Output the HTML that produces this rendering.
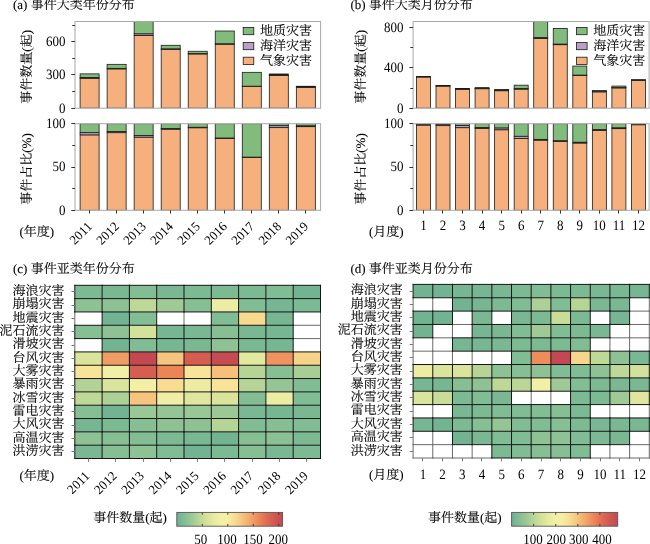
<!DOCTYPE html>
<html><head><meta charset="utf-8"><title>figure</title>
<style>
html,body{margin:0;padding:0;background:#fff;}
body{width:650px;height:544px;overflow:hidden;}
svg{display:block;will-change:transform;}
text.d{stroke:none;}
text{text-rendering:geometricPrecision;font-family:'Liberation Serif', 'Noto Serif CJK SC', serif;fill:#000;font-weight:400;stroke:#000;stroke-width:0.1px;}
</style></head>
<body>
<svg width="650" height="544" viewBox="0 0 650 544">
<rect x="0" y="0" width="650" height="544" fill="#fff"/>
<text x="13" y="9.4" text-anchor="start" font-size="13" >(a) 事件大类年份分布</text>
<clipPath id="at"><rect x="75" y="21.5" width="245.6" height="86.7"/></clipPath>
<g clip-path="url(#at)">
<rect x="80.1" y="78.3" width="19" height="29.9" fill="#f5b07e" stroke="#1a1a1a" stroke-width="0.8" />
<rect x="80.1" y="77.41" width="19" height="0.89" fill="#baa0c4" stroke="#1a1a1a" stroke-width="0.8" />
<rect x="80.1" y="73.87" width="19" height="3.54" fill="#82bc7d" stroke="#1a1a1a" stroke-width="0.8" />
<rect x="107.13" y="68.88" width="19" height="39.32" fill="#f5b07e" stroke="#1a1a1a" stroke-width="0.8" />
<rect x="107.13" y="68.33" width="19" height="0.55" fill="#baa0c4" stroke="#1a1a1a" stroke-width="0.8" />
<rect x="107.13" y="64.34" width="19" height="3.99" fill="#82bc7d" stroke="#1a1a1a" stroke-width="0.8" />
<rect x="134.16" y="35.44" width="19" height="72.76" fill="#f5b07e" stroke="#1a1a1a" stroke-width="0.8" />
<rect x="134.16" y="33.78" width="19" height="1.66" fill="#baa0c4" stroke="#1a1a1a" stroke-width="0.8" />
<rect x="134.16" y="19.38" width="19" height="14.4" fill="#82bc7d" stroke="#1a1a1a" stroke-width="0.8" />
<rect x="161.19" y="49.28" width="19" height="58.92" fill="#f5b07e" stroke="#1a1a1a" stroke-width="0.8" />
<rect x="161.19" y="48.84" width="19" height="0.44" fill="#baa0c4" stroke="#1a1a1a" stroke-width="0.8" />
<rect x="161.19" y="45.29" width="19" height="3.54" fill="#82bc7d" stroke="#1a1a1a" stroke-width="0.8" />
<rect x="188.22" y="53.93" width="19" height="54.27" fill="#f5b07e" stroke="#1a1a1a" stroke-width="0.8" />
<rect x="188.22" y="53.6" width="19" height="0.33" fill="#baa0c4" stroke="#1a1a1a" stroke-width="0.8" />
<rect x="188.22" y="51.27" width="19" height="2.33" fill="#82bc7d" stroke="#1a1a1a" stroke-width="0.8" />
<rect x="215.25" y="44.19" width="19" height="64.01" fill="#f5b07e" stroke="#1a1a1a" stroke-width="0.8" />
<rect x="215.25" y="43.74" width="19" height="0.44" fill="#baa0c4" stroke="#1a1a1a" stroke-width="0.8" />
<rect x="215.25" y="31.01" width="19" height="12.74" fill="#82bc7d" stroke="#1a1a1a" stroke-width="0.8" />
<rect x="242.28" y="86.27" width="19" height="21.93" fill="#f5b07e" stroke="#1a1a1a" stroke-width="0.8" />
<rect x="242.28" y="86.16" width="19" height="0.11" fill="#baa0c4" stroke="#1a1a1a" stroke-width="0.8" />
<rect x="242.28" y="72.32" width="19" height="13.84" fill="#82bc7d" stroke="#1a1a1a" stroke-width="0.8" />
<rect x="269.31" y="75.53" width="19" height="32.67" fill="#f5b07e" stroke="#1a1a1a" stroke-width="0.8" />
<rect x="269.31" y="74.75" width="19" height="0.78" fill="#baa0c4" stroke="#1a1a1a" stroke-width="0.8" />
<rect x="269.31" y="73.98" width="19" height="0.78" fill="#82bc7d" stroke="#1a1a1a" stroke-width="0.8" />
<rect x="296.34" y="87.27" width="19" height="20.93" fill="#f5b07e" stroke="#1a1a1a" stroke-width="0.8" />
<rect x="296.34" y="87.05" width="19" height="0.22" fill="#baa0c4" stroke="#1a1a1a" stroke-width="0.8" />
<rect x="296.34" y="86.27" width="19" height="0.78" fill="#82bc7d" stroke="#1a1a1a" stroke-width="0.8" />
</g>
<rect x="75" y="21.5" width="245.6" height="86.7" fill="none" stroke="#a8a8a8" stroke-width="1"/>
<line x1="71.3" y1="108.5" x2="75" y2="108.5" stroke="#333333" stroke-width="1.0"/>
<text transform="translate(65.4,112.5) scale(1,1.1)" text-anchor="end" font-size="13" class="d">0</text>
<line x1="71.3" y1="74.5" x2="75" y2="74.5" stroke="#333333" stroke-width="1.0"/>
<text transform="translate(65.4,79.27) scale(1,1.1)" text-anchor="end" font-size="13" class="d">300</text>
<line x1="71.3" y1="41.5" x2="75" y2="41.5" stroke="#333333" stroke-width="1.0"/>
<text transform="translate(65.4,46.05) scale(1,1.1)" text-anchor="end" font-size="13" class="d">600</text>
<line x1="72.2" y1="91.5" x2="75" y2="91.5" stroke="#333333" stroke-width="1.0"/>
<line x1="72.2" y1="58.5" x2="75" y2="58.5" stroke="#333333" stroke-width="1.0"/>
<line x1="72.2" y1="25.5" x2="75" y2="25.5" stroke="#333333" stroke-width="1.0"/>
<text transform="translate(30.9,66.85) rotate(-90)" text-anchor="middle" font-size="13">事件数量(起)</text>
<rect x="243.2" y="27.4" width="10.6" height="7.3" fill="#82bc7d" stroke="#1a1a1a" stroke-width="0.8" />
<text x="260" y="35.1" text-anchor="start" font-size="13" >地质灾害</text>
<rect x="243.2" y="42.4" width="10.6" height="7.3" fill="#baa0c4" stroke="#1a1a1a" stroke-width="0.8" />
<text x="260" y="50.1" text-anchor="start" font-size="13" >海洋灾害</text>
<rect x="243.2" y="57.2" width="10.6" height="7.3" fill="#f5b07e" stroke="#1a1a1a" stroke-width="0.8" />
<text x="260" y="64.9" text-anchor="start" font-size="13" >气象灾害</text>
<clipPath id="ap"><rect x="75" y="123.7" width="245.6" height="86.6"/></clipPath>
<g clip-path="url(#ap)">
<rect x="80.1" y="134.87" width="19" height="75.43" fill="#f5b07e" stroke="#1a1a1a" stroke-width="0.8" />
<rect x="80.1" y="132.64" width="19" height="2.23" fill="#baa0c4" stroke="#1a1a1a" stroke-width="0.8" />
<rect x="80.1" y="123.7" width="19" height="8.94" fill="#82bc7d" stroke="#1a1a1a" stroke-width="0.8" />
<rect x="107.13" y="132.67" width="19" height="77.63" fill="#f5b07e" stroke="#1a1a1a" stroke-width="0.8" />
<rect x="107.13" y="131.57" width="19" height="1.09" fill="#baa0c4" stroke="#1a1a1a" stroke-width="0.8" />
<rect x="107.13" y="123.7" width="19" height="7.87" fill="#82bc7d" stroke="#1a1a1a" stroke-width="0.8" />
<rect x="134.16" y="137.12" width="19" height="73.18" fill="#f5b07e" stroke="#1a1a1a" stroke-width="0.8" />
<rect x="134.16" y="135.48" width="19" height="1.65" fill="#baa0c4" stroke="#1a1a1a" stroke-width="0.8" />
<rect x="134.16" y="123.7" width="19" height="11.78" fill="#82bc7d" stroke="#1a1a1a" stroke-width="0.8" />
<rect x="161.19" y="129.19" width="19" height="81.11" fill="#f5b07e" stroke="#1a1a1a" stroke-width="0.8" />
<rect x="161.19" y="128.58" width="19" height="0.61" fill="#baa0c4" stroke="#1a1a1a" stroke-width="0.8" />
<rect x="161.19" y="123.7" width="19" height="4.88" fill="#82bc7d" stroke="#1a1a1a" stroke-width="0.8" />
<rect x="188.22" y="127.74" width="19" height="82.56" fill="#f5b07e" stroke="#1a1a1a" stroke-width="0.8" />
<rect x="188.22" y="127.24" width="19" height="0.51" fill="#baa0c4" stroke="#1a1a1a" stroke-width="0.8" />
<rect x="188.22" y="123.7" width="19" height="3.54" fill="#82bc7d" stroke="#1a1a1a" stroke-width="0.8" />
<rect x="215.25" y="138.49" width="19" height="71.81" fill="#f5b07e" stroke="#1a1a1a" stroke-width="0.8" />
<rect x="215.25" y="137.99" width="19" height="0.5" fill="#baa0c4" stroke="#1a1a1a" stroke-width="0.8" />
<rect x="215.25" y="123.7" width="19" height="14.29" fill="#82bc7d" stroke="#1a1a1a" stroke-width="0.8" />
<rect x="242.28" y="157.38" width="19" height="52.92" fill="#f5b07e" stroke="#1a1a1a" stroke-width="0.8" />
<rect x="242.28" y="157.11" width="19" height="0.27" fill="#baa0c4" stroke="#1a1a1a" stroke-width="0.8" />
<rect x="242.28" y="123.7" width="19" height="33.41" fill="#82bc7d" stroke="#1a1a1a" stroke-width="0.8" />
<rect x="269.31" y="127.62" width="19" height="82.68" fill="#f5b07e" stroke="#1a1a1a" stroke-width="0.8" />
<rect x="269.31" y="125.66" width="19" height="1.96" fill="#baa0c4" stroke="#1a1a1a" stroke-width="0.8" />
<rect x="269.31" y="123.7" width="19" height="1.96" fill="#82bc7d" stroke="#1a1a1a" stroke-width="0.8" />
<rect x="296.34" y="126.64" width="19" height="83.66" fill="#f5b07e" stroke="#1a1a1a" stroke-width="0.8" />
<rect x="296.34" y="125.78" width="19" height="0.87" fill="#baa0c4" stroke="#1a1a1a" stroke-width="0.8" />
<rect x="296.34" y="123.7" width="19" height="2.08" fill="#82bc7d" stroke="#1a1a1a" stroke-width="0.8" />
</g>
<rect x="75" y="123.7" width="245.6" height="86.6" fill="none" stroke="#a8a8a8" stroke-width="1"/>
<line x1="71.3" y1="210.5" x2="75" y2="210.5" stroke="#333333" stroke-width="1.0"/>
<text transform="translate(65.4,214.6) scale(1,1.1)" text-anchor="end" font-size="13" class="d">0</text>
<line x1="71.3" y1="167.5" x2="75" y2="167.5" stroke="#333333" stroke-width="1.0"/>
<text transform="translate(65.4,171.3) scale(1,1.1)" text-anchor="end" font-size="13" class="d">50</text>
<line x1="71.3" y1="123.5" x2="75" y2="123.5" stroke="#333333" stroke-width="1.0"/>
<text transform="translate(65.4,128) scale(1,1.1)" text-anchor="end" font-size="13" class="d">100</text>
<line x1="72.2" y1="188.5" x2="75" y2="188.5" stroke="#333333" stroke-width="1.0"/>
<line x1="72.2" y1="145.5" x2="75" y2="145.5" stroke="#333333" stroke-width="1.0"/>
<text transform="translate(30.9,169) rotate(-90)" text-anchor="middle" font-size="13">事件占比(%)</text>
<line x1="89.5" y1="210.3" x2="89.5" y2="213.6" stroke="#333333" stroke-width="1.0"/>
<line x1="116.5" y1="210.3" x2="116.5" y2="213.6" stroke="#333333" stroke-width="1.0"/>
<line x1="143.5" y1="210.3" x2="143.5" y2="213.6" stroke="#333333" stroke-width="1.0"/>
<line x1="170.5" y1="210.3" x2="170.5" y2="213.6" stroke="#333333" stroke-width="1.0"/>
<line x1="197.5" y1="210.3" x2="197.5" y2="213.6" stroke="#333333" stroke-width="1.0"/>
<line x1="224.5" y1="210.3" x2="224.5" y2="213.6" stroke="#333333" stroke-width="1.0"/>
<line x1="251.5" y1="210.3" x2="251.5" y2="213.6" stroke="#333333" stroke-width="1.0"/>
<line x1="278.5" y1="210.3" x2="278.5" y2="213.6" stroke="#333333" stroke-width="1.0"/>
<line x1="305.5" y1="210.3" x2="305.5" y2="213.6" stroke="#333333" stroke-width="1.0"/>
<text transform="translate(92.8,227.2) rotate(-45)" text-anchor="end" font-size="13" class="d">2011</text>
<text transform="translate(119.83,227.2) rotate(-45)" text-anchor="end" font-size="13" class="d">2012</text>
<text transform="translate(146.86,227.2) rotate(-45)" text-anchor="end" font-size="13" class="d">2013</text>
<text transform="translate(173.89,227.2) rotate(-45)" text-anchor="end" font-size="13" class="d">2014</text>
<text transform="translate(200.92,227.2) rotate(-45)" text-anchor="end" font-size="13" class="d">2015</text>
<text transform="translate(227.95,227.2) rotate(-45)" text-anchor="end" font-size="13" class="d">2016</text>
<text transform="translate(254.98,227.2) rotate(-45)" text-anchor="end" font-size="13" class="d">2017</text>
<text transform="translate(282.01,227.2) rotate(-45)" text-anchor="end" font-size="13" class="d">2018</text>
<text transform="translate(309.04,227.2) rotate(-45)" text-anchor="end" font-size="13" class="d">2019</text>
<text x="19.5" y="235.5" text-anchor="start" font-size="13" >(年度)</text>
<text x="350.4" y="9.4" text-anchor="start" font-size="13" >(b) 事件大类月份分布</text>
<clipPath id="bt"><rect x="413.1" y="21.5" width="236" height="86.7"/></clipPath>
<g clip-path="url(#bt)">
<rect x="416.45" y="76.99" width="14" height="31.21" fill="#f5b07e" stroke="#1a1a1a" stroke-width="0.8" />
<rect x="416.45" y="76.69" width="14" height="0.3" fill="#baa0c4" stroke="#1a1a1a" stroke-width="0.8" />
<rect x="416.45" y="76.49" width="14" height="0.2" fill="#82bc7d" stroke="#1a1a1a" stroke-width="0.8" />
<rect x="436" y="86.08" width="14" height="22.12" fill="#f5b07e" stroke="#1a1a1a" stroke-width="0.8" />
<rect x="436" y="85.78" width="14" height="0.3" fill="#baa0c4" stroke="#1a1a1a" stroke-width="0.8" />
<rect x="436" y="85.58" width="14" height="0.2" fill="#82bc7d" stroke="#1a1a1a" stroke-width="0.8" />
<rect x="455.54" y="89.31" width="14" height="18.89" fill="#f5b07e" stroke="#1a1a1a" stroke-width="0.8" />
<rect x="455.54" y="88.81" width="14" height="0.51" fill="#baa0c4" stroke="#1a1a1a" stroke-width="0.8" />
<rect x="455.54" y="88.4" width="14" height="0.4" fill="#82bc7d" stroke="#1a1a1a" stroke-width="0.8" />
<rect x="475.08" y="88.71" width="14" height="19.49" fill="#f5b07e" stroke="#1a1a1a" stroke-width="0.8" />
<rect x="475.08" y="88.5" width="14" height="0.2" fill="#baa0c4" stroke="#1a1a1a" stroke-width="0.8" />
<rect x="475.08" y="87.6" width="14" height="0.91" fill="#82bc7d" stroke="#1a1a1a" stroke-width="0.8" />
<rect x="494.63" y="90.73" width="14" height="17.47" fill="#f5b07e" stroke="#1a1a1a" stroke-width="0.8" />
<rect x="494.63" y="90.32" width="14" height="0.4" fill="#baa0c4" stroke="#1a1a1a" stroke-width="0.8" />
<rect x="494.63" y="89.41" width="14" height="0.91" fill="#82bc7d" stroke="#1a1a1a" stroke-width="0.8" />
<rect x="514.17" y="89.11" width="14" height="19.09" fill="#f5b07e" stroke="#1a1a1a" stroke-width="0.8" />
<rect x="514.17" y="88.51" width="14" height="0.61" fill="#baa0c4" stroke="#1a1a1a" stroke-width="0.8" />
<rect x="514.17" y="85.17" width="14" height="3.33" fill="#82bc7d" stroke="#1a1a1a" stroke-width="0.8" />
<rect x="533.72" y="38.41" width="14" height="69.79" fill="#f5b07e" stroke="#1a1a1a" stroke-width="0.8" />
<rect x="533.72" y="37.6" width="14" height="0.81" fill="#baa0c4" stroke="#1a1a1a" stroke-width="0.8" />
<rect x="533.72" y="19.93" width="14" height="17.68" fill="#82bc7d" stroke="#1a1a1a" stroke-width="0.8" />
<rect x="553.26" y="44.67" width="14" height="63.53" fill="#f5b07e" stroke="#1a1a1a" stroke-width="0.8" />
<rect x="553.26" y="44.06" width="14" height="0.61" fill="#baa0c4" stroke="#1a1a1a" stroke-width="0.8" />
<rect x="553.26" y="28.41" width="14" height="15.66" fill="#82bc7d" stroke="#1a1a1a" stroke-width="0.8" />
<rect x="572.81" y="75.48" width="14" height="32.72" fill="#f5b07e" stroke="#1a1a1a" stroke-width="0.8" />
<rect x="572.81" y="75.07" width="14" height="0.4" fill="#baa0c4" stroke="#1a1a1a" stroke-width="0.8" />
<rect x="572.81" y="66.08" width="14" height="8.99" fill="#82bc7d" stroke="#1a1a1a" stroke-width="0.8" />
<rect x="592.36" y="91.84" width="14" height="16.36" fill="#f5b07e" stroke="#1a1a1a" stroke-width="0.8" />
<rect x="592.36" y="91.64" width="14" height="0.2" fill="#baa0c4" stroke="#1a1a1a" stroke-width="0.8" />
<rect x="592.36" y="90.42" width="14" height="1.21" fill="#82bc7d" stroke="#1a1a1a" stroke-width="0.8" />
<rect x="611.9" y="87.9" width="14" height="20.3" fill="#f5b07e" stroke="#1a1a1a" stroke-width="0.8" />
<rect x="611.9" y="87.6" width="14" height="0.3" fill="#baa0c4" stroke="#1a1a1a" stroke-width="0.8" />
<rect x="611.9" y="86.08" width="14" height="1.52" fill="#82bc7d" stroke="#1a1a1a" stroke-width="0.8" />
<rect x="631.44" y="80.53" width="14" height="27.67" fill="#f5b07e" stroke="#1a1a1a" stroke-width="0.8" />
<rect x="631.44" y="80.22" width="14" height="0.3" fill="#baa0c4" stroke="#1a1a1a" stroke-width="0.8" />
<rect x="631.44" y="79.62" width="14" height="0.61" fill="#82bc7d" stroke="#1a1a1a" stroke-width="0.8" />
</g>
<rect x="413.1" y="21.5" width="236" height="86.7" fill="none" stroke="#a8a8a8" stroke-width="1"/>
<line x1="409.4" y1="108.5" x2="413.1" y2="108.5" stroke="#333333" stroke-width="1.0"/>
<text transform="translate(403.5,112.5) scale(1,1.1)" text-anchor="end" font-size="13" class="d">0</text>
<line x1="409.4" y1="67.5" x2="413.1" y2="67.5" stroke="#333333" stroke-width="1.0"/>
<text transform="translate(403.5,72.1) scale(1,1.1)" text-anchor="end" font-size="13" class="d">400</text>
<line x1="409.4" y1="27.5" x2="413.1" y2="27.5" stroke="#333333" stroke-width="1.0"/>
<text transform="translate(403.5,31.7) scale(1,1.1)" text-anchor="end" font-size="13" class="d">800</text>
<line x1="410.3" y1="88.5" x2="413.1" y2="88.5" stroke="#333333" stroke-width="1.0"/>
<line x1="410.3" y1="47.5" x2="413.1" y2="47.5" stroke="#333333" stroke-width="1.0"/>
<text transform="translate(365.2,66.85) rotate(-90)" text-anchor="middle" font-size="13">事件数量(起)</text>
<rect x="576.5" y="27.4" width="10.6" height="7.3" fill="#82bc7d" stroke="#1a1a1a" stroke-width="0.8" />
<text x="593.3" y="35.1" text-anchor="start" font-size="13" >地质灾害</text>
<rect x="576.5" y="42.4" width="10.6" height="7.3" fill="#baa0c4" stroke="#1a1a1a" stroke-width="0.8" />
<text x="593.3" y="50.1" text-anchor="start" font-size="13" >海洋灾害</text>
<rect x="576.5" y="57.2" width="10.6" height="7.3" fill="#f5b07e" stroke="#1a1a1a" stroke-width="0.8" />
<text x="593.3" y="64.9" text-anchor="start" font-size="13" >气象灾害</text>
<clipPath id="bp"><rect x="413.1" y="123.7" width="236" height="86.6"/></clipPath>
<g clip-path="url(#bp)">
<rect x="416.45" y="125.08" width="14" height="85.22" fill="#f5b07e" stroke="#1a1a1a" stroke-width="0.8" />
<rect x="416.45" y="124.25" width="14" height="0.83" fill="#baa0c4" stroke="#1a1a1a" stroke-width="0.8" />
<rect x="416.45" y="123.7" width="14" height="0.55" fill="#82bc7d" stroke="#1a1a1a" stroke-width="0.8" />
<rect x="436" y="125.63" width="14" height="84.67" fill="#f5b07e" stroke="#1a1a1a" stroke-width="0.8" />
<rect x="436" y="124.47" width="14" height="1.16" fill="#baa0c4" stroke="#1a1a1a" stroke-width="0.8" />
<rect x="436" y="123.7" width="14" height="0.77" fill="#82bc7d" stroke="#1a1a1a" stroke-width="0.8" />
<rect x="455.54" y="127.68" width="14" height="82.62" fill="#f5b07e" stroke="#1a1a1a" stroke-width="0.8" />
<rect x="455.54" y="125.47" width="14" height="2.21" fill="#baa0c4" stroke="#1a1a1a" stroke-width="0.8" />
<rect x="455.54" y="123.7" width="14" height="1.77" fill="#82bc7d" stroke="#1a1a1a" stroke-width="0.8" />
<rect x="475.08" y="128.37" width="14" height="81.93" fill="#f5b07e" stroke="#1a1a1a" stroke-width="0.8" />
<rect x="475.08" y="127.52" width="14" height="0.85" fill="#baa0c4" stroke="#1a1a1a" stroke-width="0.8" />
<rect x="475.08" y="123.7" width="14" height="3.82" fill="#82bc7d" stroke="#1a1a1a" stroke-width="0.8" />
<rect x="494.63" y="129.75" width="14" height="80.55" fill="#f5b07e" stroke="#1a1a1a" stroke-width="0.8" />
<rect x="494.63" y="127.89" width="14" height="1.86" fill="#baa0c4" stroke="#1a1a1a" stroke-width="0.8" />
<rect x="494.63" y="123.7" width="14" height="4.19" fill="#82bc7d" stroke="#1a1a1a" stroke-width="0.8" />
<rect x="514.17" y="138.51" width="14" height="71.79" fill="#f5b07e" stroke="#1a1a1a" stroke-width="0.8" />
<rect x="514.17" y="136.23" width="14" height="2.28" fill="#baa0c4" stroke="#1a1a1a" stroke-width="0.8" />
<rect x="514.17" y="123.7" width="14" height="12.53" fill="#82bc7d" stroke="#1a1a1a" stroke-width="0.8" />
<rect x="533.72" y="140.15" width="14" height="70.15" fill="#f5b07e" stroke="#1a1a1a" stroke-width="0.8" />
<rect x="533.72" y="139.37" width="14" height="0.78" fill="#baa0c4" stroke="#1a1a1a" stroke-width="0.8" />
<rect x="533.72" y="123.7" width="14" height="15.67" fill="#82bc7d" stroke="#1a1a1a" stroke-width="0.8" />
<rect x="553.26" y="141.35" width="14" height="68.95" fill="#f5b07e" stroke="#1a1a1a" stroke-width="0.8" />
<rect x="553.26" y="140.69" width="14" height="0.66" fill="#baa0c4" stroke="#1a1a1a" stroke-width="0.8" />
<rect x="553.26" y="123.7" width="14" height="16.99" fill="#82bc7d" stroke="#1a1a1a" stroke-width="0.8" />
<rect x="572.81" y="143.01" width="14" height="67.29" fill="#f5b07e" stroke="#1a1a1a" stroke-width="0.8" />
<rect x="572.81" y="142.18" width="14" height="0.83" fill="#baa0c4" stroke="#1a1a1a" stroke-width="0.8" />
<rect x="572.81" y="123.7" width="14" height="18.48" fill="#82bc7d" stroke="#1a1a1a" stroke-width="0.8" />
<rect x="592.36" y="130.59" width="14" height="79.71" fill="#f5b07e" stroke="#1a1a1a" stroke-width="0.8" />
<rect x="592.36" y="129.6" width="14" height="0.98" fill="#baa0c4" stroke="#1a1a1a" stroke-width="0.8" />
<rect x="592.36" y="123.7" width="14" height="5.9" fill="#82bc7d" stroke="#1a1a1a" stroke-width="0.8" />
<rect x="611.9" y="128.64" width="14" height="81.66" fill="#f5b07e" stroke="#1a1a1a" stroke-width="0.8" />
<rect x="611.9" y="127.77" width="14" height="0.87" fill="#baa0c4" stroke="#1a1a1a" stroke-width="0.8" />
<rect x="611.9" y="123.7" width="14" height="4.07" fill="#82bc7d" stroke="#1a1a1a" stroke-width="0.8" />
<rect x="631.44" y="124.74" width="14" height="85.56" fill="#f5b07e" stroke="#1a1a1a" stroke-width="0.8" />
<rect x="631.44" y="124.22" width="14" height="0.52" fill="#baa0c4" stroke="#1a1a1a" stroke-width="0.8" />
<rect x="631.44" y="123.7" width="14" height="0.52" fill="#82bc7d" stroke="#1a1a1a" stroke-width="0.8" />
</g>
<rect x="413.1" y="123.7" width="236" height="86.6" fill="none" stroke="#a8a8a8" stroke-width="1"/>
<line x1="409.4" y1="210.5" x2="413.1" y2="210.5" stroke="#333333" stroke-width="1.0"/>
<text transform="translate(403.5,214.6) scale(1,1.1)" text-anchor="end" font-size="13" class="d">0</text>
<line x1="409.4" y1="167.5" x2="413.1" y2="167.5" stroke="#333333" stroke-width="1.0"/>
<text transform="translate(403.5,171.3) scale(1,1.1)" text-anchor="end" font-size="13" class="d">50</text>
<line x1="409.4" y1="123.5" x2="413.1" y2="123.5" stroke="#333333" stroke-width="1.0"/>
<text transform="translate(403.5,128) scale(1,1.1)" text-anchor="end" font-size="13" class="d">100</text>
<line x1="410.3" y1="188.5" x2="413.1" y2="188.5" stroke="#333333" stroke-width="1.0"/>
<line x1="410.3" y1="145.5" x2="413.1" y2="145.5" stroke="#333333" stroke-width="1.0"/>
<text transform="translate(365.2,169) rotate(-90)" text-anchor="middle" font-size="13">事件占比(%)</text>
<line x1="423.5" y1="210.3" x2="423.5" y2="213.6" stroke="#333333" stroke-width="1.0"/>
<line x1="442.5" y1="210.3" x2="442.5" y2="213.6" stroke="#333333" stroke-width="1.0"/>
<line x1="462.5" y1="210.3" x2="462.5" y2="213.6" stroke="#333333" stroke-width="1.0"/>
<line x1="482.5" y1="210.3" x2="482.5" y2="213.6" stroke="#333333" stroke-width="1.0"/>
<line x1="501.5" y1="210.3" x2="501.5" y2="213.6" stroke="#333333" stroke-width="1.0"/>
<line x1="521.5" y1="210.3" x2="521.5" y2="213.6" stroke="#333333" stroke-width="1.0"/>
<line x1="540.5" y1="210.3" x2="540.5" y2="213.6" stroke="#333333" stroke-width="1.0"/>
<line x1="560.5" y1="210.3" x2="560.5" y2="213.6" stroke="#333333" stroke-width="1.0"/>
<line x1="579.5" y1="210.3" x2="579.5" y2="213.6" stroke="#333333" stroke-width="1.0"/>
<line x1="599.5" y1="210.3" x2="599.5" y2="213.6" stroke="#333333" stroke-width="1.0"/>
<line x1="618.5" y1="210.3" x2="618.5" y2="213.6" stroke="#333333" stroke-width="1.0"/>
<line x1="638.5" y1="210.3" x2="638.5" y2="213.6" stroke="#333333" stroke-width="1.0"/>
<text transform="translate(423.45,230.3) scale(1,1.1)" text-anchor="middle" font-size="13" class="d">1</text>
<text transform="translate(443,230.3) scale(1,1.1)" text-anchor="middle" font-size="13" class="d">2</text>
<text transform="translate(462.54,230.3) scale(1,1.1)" text-anchor="middle" font-size="13" class="d">3</text>
<text transform="translate(482.08,230.3) scale(1,1.1)" text-anchor="middle" font-size="13" class="d">4</text>
<text transform="translate(501.63,230.3) scale(1,1.1)" text-anchor="middle" font-size="13" class="d">5</text>
<text transform="translate(521.17,230.3) scale(1,1.1)" text-anchor="middle" font-size="13" class="d">6</text>
<text transform="translate(540.72,230.3) scale(1,1.1)" text-anchor="middle" font-size="13" class="d">7</text>
<text transform="translate(560.26,230.3) scale(1,1.1)" text-anchor="middle" font-size="13" class="d">8</text>
<text transform="translate(579.81,230.3) scale(1,1.1)" text-anchor="middle" font-size="13" class="d">9</text>
<text transform="translate(599.36,230.3) scale(1,1.1)" text-anchor="middle" font-size="13" class="d">10</text>
<text transform="translate(618.9,230.3) scale(1,1.1)" text-anchor="middle" font-size="13" class="d">11</text>
<text transform="translate(638.44,230.3) scale(1,1.1)" text-anchor="middle" font-size="13" class="d">12</text>
<text x="369" y="235.5" text-anchor="start" font-size="13" >(月度)</text>
<text x="13" y="272.5" text-anchor="start" font-size="13" >(c) 事件亚类年份分布</text>
<rect x="74.8" y="285.3" width="27.3" height="13.32" fill="#7cba94" />
<rect x="102.1" y="285.3" width="27.3" height="13.32" fill="#79b893" />
<rect x="129.4" y="285.3" width="27.3" height="13.32" fill="#83bd94" />
<rect x="156.7" y="285.3" width="27.3" height="13.32" fill="#79b893" />
<rect x="184" y="285.3" width="27.3" height="13.32" fill="#7cba94" />
<rect x="211.3" y="285.3" width="27.3" height="13.32" fill="#7cba94" />
<rect x="238.6" y="285.3" width="27.3" height="13.32" fill="#7cba94" />
<rect x="265.9" y="285.3" width="27.3" height="13.32" fill="#80bc94" />
<rect x="293.2" y="285.3" width="27.3" height="13.32" fill="#72b492" />
<rect x="74.8" y="298.62" width="27.3" height="13.32" fill="#8ec294" />
<rect x="102.1" y="298.62" width="27.3" height="13.32" fill="#8ec294" />
<rect x="129.4" y="298.62" width="27.3" height="13.32" fill="#bed897" />
<rect x="156.7" y="298.62" width="27.3" height="13.32" fill="#a0ca95" />
<rect x="184" y="298.62" width="27.3" height="13.32" fill="#87bf94" />
<rect x="211.3" y="298.62" width="27.3" height="13.32" fill="#eceda3" />
<rect x="238.6" y="298.62" width="27.3" height="13.32" fill="#80bc94" />
<rect x="265.9" y="298.62" width="27.3" height="13.32" fill="#76b692" />
<rect x="293.2" y="298.62" width="27.3" height="13.32" fill="#7cba94" />
<rect x="74.8" y="311.95" width="27.3" height="13.32" fill="#ffffff" />
<rect x="102.1" y="311.95" width="27.3" height="13.32" fill="#72b492" />
<rect x="129.4" y="311.95" width="27.3" height="13.32" fill="#83bd94" />
<rect x="156.7" y="311.95" width="27.3" height="13.32" fill="#ffffff" />
<rect x="184" y="311.95" width="27.3" height="13.32" fill="#ffffff" />
<rect x="211.3" y="311.95" width="27.3" height="13.32" fill="#80bc94" />
<rect x="238.6" y="311.95" width="27.3" height="13.32" fill="#f7d98f" />
<rect x="265.9" y="311.95" width="27.3" height="13.32" fill="#76b692" />
<rect x="293.2" y="311.95" width="27.3" height="13.32" fill="#ffffff" />
<rect x="74.8" y="325.27" width="27.3" height="13.32" fill="#87bf94" />
<rect x="102.1" y="325.27" width="27.3" height="13.32" fill="#8ec294" />
<rect x="129.4" y="325.27" width="27.3" height="13.32" fill="#d4e19a" />
<rect x="156.7" y="325.27" width="27.3" height="13.32" fill="#76b692" />
<rect x="184" y="325.27" width="27.3" height="13.32" fill="#79b893" />
<rect x="211.3" y="325.27" width="27.3" height="13.32" fill="#87bf94" />
<rect x="238.6" y="325.27" width="27.3" height="13.32" fill="#79b893" />
<rect x="265.9" y="325.27" width="27.3" height="13.32" fill="#76b692" />
<rect x="293.2" y="325.27" width="27.3" height="13.32" fill="#ffffff" />
<rect x="74.8" y="338.59" width="27.3" height="13.32" fill="#ffffff" />
<rect x="102.1" y="338.59" width="27.3" height="13.32" fill="#72b492" />
<rect x="129.4" y="338.59" width="27.3" height="13.32" fill="#80bc94" />
<rect x="156.7" y="338.59" width="27.3" height="13.32" fill="#76b692" />
<rect x="184" y="338.59" width="27.3" height="13.32" fill="#79b893" />
<rect x="211.3" y="338.59" width="27.3" height="13.32" fill="#8ec294" />
<rect x="238.6" y="338.59" width="27.3" height="13.32" fill="#79b893" />
<rect x="265.9" y="338.59" width="27.3" height="13.32" fill="#76b692" />
<rect x="293.2" y="338.59" width="27.3" height="13.32" fill="#ffffff" />
<rect x="74.8" y="351.92" width="27.3" height="13.32" fill="#dae49b" />
<rect x="102.1" y="351.92" width="27.3" height="13.32" fill="#f09d65" />
<rect x="129.4" y="351.92" width="27.3" height="13.32" fill="#c44852" />
<rect x="156.7" y="351.92" width="27.3" height="13.32" fill="#f6c47e" />
<rect x="184" y="351.92" width="27.3" height="13.32" fill="#d65e50" />
<rect x="211.3" y="351.92" width="27.3" height="13.32" fill="#c74c51" />
<rect x="238.6" y="351.92" width="27.3" height="13.32" fill="#e2e89e" />
<rect x="265.9" y="351.92" width="27.3" height="13.32" fill="#ef9460" />
<rect x="293.2" y="351.92" width="27.3" height="13.32" fill="#f7d289" />
<rect x="74.8" y="365.24" width="27.3" height="13.32" fill="#f7e499" />
<rect x="102.1" y="365.24" width="27.3" height="13.32" fill="#f2f0a6" />
<rect x="129.4" y="365.24" width="27.3" height="13.32" fill="#d65e50" />
<rect x="156.7" y="365.24" width="27.3" height="13.32" fill="#ec8458" />
<rect x="184" y="365.24" width="27.3" height="13.32" fill="#f7e499" />
<rect x="211.3" y="365.24" width="27.3" height="13.32" fill="#f6c07b" />
<rect x="238.6" y="365.24" width="27.3" height="13.32" fill="#b6d496" />
<rect x="265.9" y="365.24" width="27.3" height="13.32" fill="#87bf94" />
<rect x="293.2" y="365.24" width="27.3" height="13.32" fill="#a9ce95" />
<rect x="74.8" y="378.56" width="27.3" height="13.32" fill="#b2d296" />
<rect x="102.1" y="378.56" width="27.3" height="13.32" fill="#dae49b" />
<rect x="129.4" y="378.56" width="27.3" height="13.32" fill="#f4efa4" />
<rect x="156.7" y="378.56" width="27.3" height="13.32" fill="#f7dc92" />
<rect x="184" y="378.56" width="27.3" height="13.32" fill="#eceda3" />
<rect x="211.3" y="378.56" width="27.3" height="13.32" fill="#f7e499" />
<rect x="238.6" y="378.56" width="27.3" height="13.32" fill="#b6d496" />
<rect x="265.9" y="378.56" width="27.3" height="13.32" fill="#95c594" />
<rect x="293.2" y="378.56" width="27.3" height="13.32" fill="#80bc94" />
<rect x="74.8" y="391.88" width="27.3" height="13.32" fill="#bed897" />
<rect x="102.1" y="391.88" width="27.3" height="13.32" fill="#add096" />
<rect x="129.4" y="391.88" width="27.3" height="13.32" fill="#f6c47e" />
<rect x="156.7" y="391.88" width="27.3" height="13.32" fill="#efeea4" />
<rect x="184" y="391.88" width="27.3" height="13.32" fill="#e0e69d" />
<rect x="211.3" y="391.88" width="27.3" height="13.32" fill="#dae49b" />
<rect x="238.6" y="391.88" width="27.3" height="13.32" fill="#83bd94" />
<rect x="265.9" y="391.88" width="27.3" height="13.32" fill="#eceda3" />
<rect x="293.2" y="391.88" width="27.3" height="13.32" fill="#80bc94" />
<rect x="74.8" y="405.21" width="27.3" height="13.32" fill="#87bf94" />
<rect x="102.1" y="405.21" width="27.3" height="13.32" fill="#72b492" />
<rect x="129.4" y="405.21" width="27.3" height="13.32" fill="#99c795" />
<rect x="156.7" y="405.21" width="27.3" height="13.32" fill="#95c594" />
<rect x="184" y="405.21" width="27.3" height="13.32" fill="#99c795" />
<rect x="211.3" y="405.21" width="27.3" height="13.32" fill="#9cc895" />
<rect x="238.6" y="405.21" width="27.3" height="13.32" fill="#79b893" />
<rect x="265.9" y="405.21" width="27.3" height="13.32" fill="#76b692" />
<rect x="293.2" y="405.21" width="27.3" height="13.32" fill="#79b893" />
<rect x="74.8" y="418.53" width="27.3" height="13.32" fill="#76b692" />
<rect x="102.1" y="418.53" width="27.3" height="13.32" fill="#7cba94" />
<rect x="129.4" y="418.53" width="27.3" height="13.32" fill="#87bf94" />
<rect x="156.7" y="418.53" width="27.3" height="13.32" fill="#8ec294" />
<rect x="184" y="418.53" width="27.3" height="13.32" fill="#8ec294" />
<rect x="211.3" y="418.53" width="27.3" height="13.32" fill="#b6d496" />
<rect x="238.6" y="418.53" width="27.3" height="13.32" fill="#80bc94" />
<rect x="265.9" y="418.53" width="27.3" height="13.32" fill="#87bf94" />
<rect x="293.2" y="418.53" width="27.3" height="13.32" fill="#80bc94" />
<rect x="74.8" y="431.85" width="27.3" height="13.32" fill="#8ec294" />
<rect x="102.1" y="431.85" width="27.3" height="13.32" fill="#87bf94" />
<rect x="129.4" y="431.85" width="27.3" height="13.32" fill="#83bd94" />
<rect x="156.7" y="431.85" width="27.3" height="13.32" fill="#7cba94" />
<rect x="184" y="431.85" width="27.3" height="13.32" fill="#79b893" />
<rect x="211.3" y="431.85" width="27.3" height="13.32" fill="#72b492" />
<rect x="238.6" y="431.85" width="27.3" height="13.32" fill="#87bf94" />
<rect x="265.9" y="431.85" width="27.3" height="13.32" fill="#8ac094" />
<rect x="293.2" y="431.85" width="27.3" height="13.32" fill="#7cba94" />
<rect x="74.8" y="445.18" width="27.3" height="13.32" fill="#79b893" />
<rect x="102.1" y="445.18" width="27.3" height="13.32" fill="#87bf94" />
<rect x="129.4" y="445.18" width="27.3" height="13.32" fill="#8ec294" />
<rect x="156.7" y="445.18" width="27.3" height="13.32" fill="#80bc94" />
<rect x="184" y="445.18" width="27.3" height="13.32" fill="#72b492" />
<rect x="211.3" y="445.18" width="27.3" height="13.32" fill="#7cba94" />
<rect x="238.6" y="445.18" width="27.3" height="13.32" fill="#87bf94" />
<rect x="265.9" y="445.18" width="27.3" height="13.32" fill="#79b893" />
<rect x="293.2" y="445.18" width="27.3" height="13.32" fill="#7cba94" />
<path d="M74.8 311.95L74.8 325.27 M74.8 338.59L74.8 351.92 M184 311.95L184 325.27 M320.5 311.95L320.5 325.27 M320.5 325.27L320.5 338.59 M320.5 338.59L320.5 351.92 M293.2 325.27L320.5 325.27 M293.2 338.59L320.5 338.59" stroke="#6a6a6a" stroke-width="1.0" stroke-linecap="square" fill="none"/>
<path d="M74.8 285.3L74.8 298.62 M74.8 298.62L74.8 311.95 M74.8 325.27L74.8 338.59 M74.8 351.92L74.8 365.24 M74.8 365.24L74.8 378.56 M74.8 378.56L74.8 391.88 M74.8 391.88L74.8 405.21 M74.8 405.21L74.8 418.53 M74.8 418.53L74.8 431.85 M74.8 431.85L74.8 445.18 M74.8 445.18L74.8 458.5 M102.1 285.3L102.1 298.62 M102.1 298.62L102.1 311.95 M102.1 311.95L102.1 325.27 M102.1 325.27L102.1 338.59 M102.1 338.59L102.1 351.92 M102.1 351.92L102.1 365.24 M102.1 365.24L102.1 378.56 M102.1 378.56L102.1 391.88 M102.1 391.88L102.1 405.21 M102.1 405.21L102.1 418.53 M102.1 418.53L102.1 431.85 M102.1 431.85L102.1 445.18 M102.1 445.18L102.1 458.5 M129.4 285.3L129.4 298.62 M129.4 298.62L129.4 311.95 M129.4 311.95L129.4 325.27 M129.4 325.27L129.4 338.59 M129.4 338.59L129.4 351.92 M129.4 351.92L129.4 365.24 M129.4 365.24L129.4 378.56 M129.4 378.56L129.4 391.88 M129.4 391.88L129.4 405.21 M129.4 405.21L129.4 418.53 M129.4 418.53L129.4 431.85 M129.4 431.85L129.4 445.18 M129.4 445.18L129.4 458.5 M156.7 285.3L156.7 298.62 M156.7 298.62L156.7 311.95 M156.7 311.95L156.7 325.27 M156.7 325.27L156.7 338.59 M156.7 338.59L156.7 351.92 M156.7 351.92L156.7 365.24 M156.7 365.24L156.7 378.56 M156.7 378.56L156.7 391.88 M156.7 391.88L156.7 405.21 M156.7 405.21L156.7 418.53 M156.7 418.53L156.7 431.85 M156.7 431.85L156.7 445.18 M156.7 445.18L156.7 458.5 M184 285.3L184 298.62 M184 298.62L184 311.95 M184 325.27L184 338.59 M184 338.59L184 351.92 M184 351.92L184 365.24 M184 365.24L184 378.56 M184 378.56L184 391.88 M184 391.88L184 405.21 M184 405.21L184 418.53 M184 418.53L184 431.85 M184 431.85L184 445.18 M184 445.18L184 458.5 M211.3 285.3L211.3 298.62 M211.3 298.62L211.3 311.95 M211.3 311.95L211.3 325.27 M211.3 325.27L211.3 338.59 M211.3 338.59L211.3 351.92 M211.3 351.92L211.3 365.24 M211.3 365.24L211.3 378.56 M211.3 378.56L211.3 391.88 M211.3 391.88L211.3 405.21 M211.3 405.21L211.3 418.53 M211.3 418.53L211.3 431.85 M211.3 431.85L211.3 445.18 M211.3 445.18L211.3 458.5 M238.6 285.3L238.6 298.62 M238.6 298.62L238.6 311.95 M238.6 311.95L238.6 325.27 M238.6 325.27L238.6 338.59 M238.6 338.59L238.6 351.92 M238.6 351.92L238.6 365.24 M238.6 365.24L238.6 378.56 M238.6 378.56L238.6 391.88 M238.6 391.88L238.6 405.21 M238.6 405.21L238.6 418.53 M238.6 418.53L238.6 431.85 M238.6 431.85L238.6 445.18 M238.6 445.18L238.6 458.5 M265.9 285.3L265.9 298.62 M265.9 298.62L265.9 311.95 M265.9 311.95L265.9 325.27 M265.9 325.27L265.9 338.59 M265.9 338.59L265.9 351.92 M265.9 351.92L265.9 365.24 M265.9 365.24L265.9 378.56 M265.9 378.56L265.9 391.88 M265.9 391.88L265.9 405.21 M265.9 405.21L265.9 418.53 M265.9 418.53L265.9 431.85 M265.9 431.85L265.9 445.18 M265.9 445.18L265.9 458.5 M293.2 285.3L293.2 298.62 M293.2 298.62L293.2 311.95 M293.2 311.95L293.2 325.27 M293.2 325.27L293.2 338.59 M293.2 338.59L293.2 351.92 M293.2 351.92L293.2 365.24 M293.2 365.24L293.2 378.56 M293.2 378.56L293.2 391.88 M293.2 391.88L293.2 405.21 M293.2 405.21L293.2 418.53 M293.2 418.53L293.2 431.85 M293.2 431.85L293.2 445.18 M293.2 445.18L293.2 458.5 M320.5 285.3L320.5 298.62 M320.5 298.62L320.5 311.95 M320.5 351.92L320.5 365.24 M320.5 365.24L320.5 378.56 M320.5 378.56L320.5 391.88 M320.5 391.88L320.5 405.21 M320.5 405.21L320.5 418.53 M320.5 418.53L320.5 431.85 M320.5 431.85L320.5 445.18 M320.5 445.18L320.5 458.5 M74.8 285.3L102.1 285.3 M102.1 285.3L129.4 285.3 M129.4 285.3L156.7 285.3 M156.7 285.3L184 285.3 M184 285.3L211.3 285.3 M211.3 285.3L238.6 285.3 M238.6 285.3L265.9 285.3 M265.9 285.3L293.2 285.3 M293.2 285.3L320.5 285.3 M74.8 298.62L102.1 298.62 M102.1 298.62L129.4 298.62 M129.4 298.62L156.7 298.62 M156.7 298.62L184 298.62 M184 298.62L211.3 298.62 M211.3 298.62L238.6 298.62 M238.6 298.62L265.9 298.62 M265.9 298.62L293.2 298.62 M293.2 298.62L320.5 298.62 M74.8 311.95L102.1 311.95 M102.1 311.95L129.4 311.95 M129.4 311.95L156.7 311.95 M156.7 311.95L184 311.95 M184 311.95L211.3 311.95 M211.3 311.95L238.6 311.95 M238.6 311.95L265.9 311.95 M265.9 311.95L293.2 311.95 M293.2 311.95L320.5 311.95 M74.8 325.27L102.1 325.27 M102.1 325.27L129.4 325.27 M129.4 325.27L156.7 325.27 M156.7 325.27L184 325.27 M184 325.27L211.3 325.27 M211.3 325.27L238.6 325.27 M238.6 325.27L265.9 325.27 M265.9 325.27L293.2 325.27 M74.8 338.59L102.1 338.59 M102.1 338.59L129.4 338.59 M129.4 338.59L156.7 338.59 M156.7 338.59L184 338.59 M184 338.59L211.3 338.59 M211.3 338.59L238.6 338.59 M238.6 338.59L265.9 338.59 M265.9 338.59L293.2 338.59 M74.8 351.92L102.1 351.92 M102.1 351.92L129.4 351.92 M129.4 351.92L156.7 351.92 M156.7 351.92L184 351.92 M184 351.92L211.3 351.92 M211.3 351.92L238.6 351.92 M238.6 351.92L265.9 351.92 M265.9 351.92L293.2 351.92 M293.2 351.92L320.5 351.92 M74.8 365.24L102.1 365.24 M102.1 365.24L129.4 365.24 M129.4 365.24L156.7 365.24 M156.7 365.24L184 365.24 M184 365.24L211.3 365.24 M211.3 365.24L238.6 365.24 M238.6 365.24L265.9 365.24 M265.9 365.24L293.2 365.24 M293.2 365.24L320.5 365.24 M74.8 378.56L102.1 378.56 M102.1 378.56L129.4 378.56 M129.4 378.56L156.7 378.56 M156.7 378.56L184 378.56 M184 378.56L211.3 378.56 M211.3 378.56L238.6 378.56 M238.6 378.56L265.9 378.56 M265.9 378.56L293.2 378.56 M293.2 378.56L320.5 378.56 M74.8 391.88L102.1 391.88 M102.1 391.88L129.4 391.88 M129.4 391.88L156.7 391.88 M156.7 391.88L184 391.88 M184 391.88L211.3 391.88 M211.3 391.88L238.6 391.88 M238.6 391.88L265.9 391.88 M265.9 391.88L293.2 391.88 M293.2 391.88L320.5 391.88 M74.8 405.21L102.1 405.21 M102.1 405.21L129.4 405.21 M129.4 405.21L156.7 405.21 M156.7 405.21L184 405.21 M184 405.21L211.3 405.21 M211.3 405.21L238.6 405.21 M238.6 405.21L265.9 405.21 M265.9 405.21L293.2 405.21 M293.2 405.21L320.5 405.21 M74.8 418.53L102.1 418.53 M102.1 418.53L129.4 418.53 M129.4 418.53L156.7 418.53 M156.7 418.53L184 418.53 M184 418.53L211.3 418.53 M211.3 418.53L238.6 418.53 M238.6 418.53L265.9 418.53 M265.9 418.53L293.2 418.53 M293.2 418.53L320.5 418.53 M74.8 431.85L102.1 431.85 M102.1 431.85L129.4 431.85 M129.4 431.85L156.7 431.85 M156.7 431.85L184 431.85 M184 431.85L211.3 431.85 M211.3 431.85L238.6 431.85 M238.6 431.85L265.9 431.85 M265.9 431.85L293.2 431.85 M293.2 431.85L320.5 431.85 M74.8 445.18L102.1 445.18 M102.1 445.18L129.4 445.18 M129.4 445.18L156.7 445.18 M156.7 445.18L184 445.18 M184 445.18L211.3 445.18 M211.3 445.18L238.6 445.18 M238.6 445.18L265.9 445.18 M265.9 445.18L293.2 445.18 M293.2 445.18L320.5 445.18 M74.8 458.5L102.1 458.5 M102.1 458.5L129.4 458.5 M129.4 458.5L156.7 458.5 M156.7 458.5L184 458.5 M184 458.5L211.3 458.5 M211.3 458.5L238.6 458.5 M238.6 458.5L265.9 458.5 M265.9 458.5L293.2 458.5 M293.2 458.5L320.5 458.5" stroke="#151515" stroke-width="1.0" stroke-linecap="square" fill="none"/>
<line x1="71.5" y1="291.5" x2="74.8" y2="291.5" stroke="#777" stroke-width="1.0"/>
<text x="64.4" y="295.16" text-anchor="end" font-size="13" >海浪灾害</text>
<line x1="71.5" y1="305.5" x2="74.8" y2="305.5" stroke="#777" stroke-width="1.0"/>
<text x="64.4" y="308.48" text-anchor="end" font-size="13" >崩塌灾害</text>
<line x1="71.5" y1="318.5" x2="74.8" y2="318.5" stroke="#777" stroke-width="1.0"/>
<text x="64.4" y="321.81" text-anchor="end" font-size="13" >地震灾害</text>
<line x1="71.5" y1="331.5" x2="74.8" y2="331.5" stroke="#777" stroke-width="1.0"/>
<text x="64.4" y="335.13" text-anchor="end" font-size="13" >泥石流灾害</text>
<line x1="71.5" y1="345.5" x2="74.8" y2="345.5" stroke="#777" stroke-width="1.0"/>
<text x="64.4" y="348.45" text-anchor="end" font-size="13" >滑坡灾害</text>
<line x1="71.5" y1="358.5" x2="74.8" y2="358.5" stroke="#777" stroke-width="1.0"/>
<text x="64.4" y="361.78" text-anchor="end" font-size="13" >台风灾害</text>
<line x1="71.5" y1="371.5" x2="74.8" y2="371.5" stroke="#777" stroke-width="1.0"/>
<text x="64.4" y="375.1" text-anchor="end" font-size="13" >大雾灾害</text>
<line x1="71.5" y1="385.5" x2="74.8" y2="385.5" stroke="#777" stroke-width="1.0"/>
<text x="64.4" y="388.42" text-anchor="end" font-size="13" >暴雨灾害</text>
<line x1="71.5" y1="398.5" x2="74.8" y2="398.5" stroke="#777" stroke-width="1.0"/>
<text x="64.4" y="401.75" text-anchor="end" font-size="13" >冰雪灾害</text>
<line x1="71.5" y1="411.5" x2="74.8" y2="411.5" stroke="#777" stroke-width="1.0"/>
<text x="64.4" y="415.07" text-anchor="end" font-size="13" >雷电灾害</text>
<line x1="71.5" y1="425.5" x2="74.8" y2="425.5" stroke="#777" stroke-width="1.0"/>
<text x="64.4" y="428.39" text-anchor="end" font-size="13" >大风灾害</text>
<line x1="71.5" y1="438.5" x2="74.8" y2="438.5" stroke="#777" stroke-width="1.0"/>
<text x="64.4" y="441.72" text-anchor="end" font-size="13" >高温灾害</text>
<line x1="71.5" y1="451.5" x2="74.8" y2="451.5" stroke="#777" stroke-width="1.0"/>
<text x="64.4" y="455.04" text-anchor="end" font-size="13" >洪涝灾害</text>
<line x1="88.5" y1="458.5" x2="88.5" y2="461.8" stroke="#777" stroke-width="1.0"/>
<text transform="translate(90.35,476.6) rotate(-45)" text-anchor="end" font-size="13" class="d">2011</text>
<line x1="115.5" y1="458.5" x2="115.5" y2="461.8" stroke="#777" stroke-width="1.0"/>
<text transform="translate(117.65,476.6) rotate(-45)" text-anchor="end" font-size="13" class="d">2012</text>
<line x1="143.5" y1="458.5" x2="143.5" y2="461.8" stroke="#777" stroke-width="1.0"/>
<text transform="translate(144.95,476.6) rotate(-45)" text-anchor="end" font-size="13" class="d">2013</text>
<line x1="170.5" y1="458.5" x2="170.5" y2="461.8" stroke="#777" stroke-width="1.0"/>
<text transform="translate(172.25,476.6) rotate(-45)" text-anchor="end" font-size="13" class="d">2014</text>
<line x1="197.5" y1="458.5" x2="197.5" y2="461.8" stroke="#777" stroke-width="1.0"/>
<text transform="translate(199.55,476.6) rotate(-45)" text-anchor="end" font-size="13" class="d">2015</text>
<line x1="224.5" y1="458.5" x2="224.5" y2="461.8" stroke="#777" stroke-width="1.0"/>
<text transform="translate(226.85,476.6) rotate(-45)" text-anchor="end" font-size="13" class="d">2016</text>
<line x1="252.5" y1="458.5" x2="252.5" y2="461.8" stroke="#777" stroke-width="1.0"/>
<text transform="translate(254.15,476.6) rotate(-45)" text-anchor="end" font-size="13" class="d">2017</text>
<line x1="279.5" y1="458.5" x2="279.5" y2="461.8" stroke="#777" stroke-width="1.0"/>
<text transform="translate(281.45,476.6) rotate(-45)" text-anchor="end" font-size="13" class="d">2018</text>
<line x1="306.5" y1="458.5" x2="306.5" y2="461.8" stroke="#777" stroke-width="1.0"/>
<text transform="translate(308.75,476.6) rotate(-45)" text-anchor="end" font-size="13" class="d">2019</text>
<text x="19.5" y="479.6" text-anchor="start" font-size="13" >(年度)</text>
<linearGradient id="g176" x1="0" y1="0" x2="1" y2="0"><stop offset="0%" stop-color="#6cb090"/><stop offset="5%" stop-color="#7cba94"/><stop offset="10%" stop-color="#8ec294"/><stop offset="15%" stop-color="#a0ca95"/><stop offset="20%" stop-color="#b6d496"/><stop offset="25%" stop-color="#cadd98"/><stop offset="30%" stop-color="#dae49b"/><stop offset="35%" stop-color="#e8eaa0"/><stop offset="42%" stop-color="#f2f0a6"/><stop offset="48%" stop-color="#f6eea3"/><stop offset="55%" stop-color="#f7dc92"/><stop offset="62%" stop-color="#f6c47e"/><stop offset="70%" stop-color="#f2a569"/><stop offset="78%" stop-color="#ec8458"/><stop offset="86%" stop-color="#de6850"/><stop offset="93%" stop-color="#d05650"/><stop offset="100%" stop-color="#c44852"/></linearGradient>
<rect x="176.8" y="512.4" width="105.8" height="13.8" fill="url(#g176)" stroke="#555" stroke-width="0.9"/>
<line x1="202.29" y1="512.4" x2="202.29" y2="514.7" stroke="#333" stroke-width="0.9"/>
<line x1="202.29" y1="523.9" x2="202.29" y2="526.2" stroke="#333" stroke-width="0.9"/>
<text transform="translate(200.8,544.1) scale(1,1.1)" text-anchor="middle" font-size="13" class="d">50</text>
<line x1="227.79" y1="512.4" x2="227.79" y2="514.7" stroke="#333" stroke-width="0.9"/>
<line x1="227.79" y1="523.9" x2="227.79" y2="526.2" stroke="#333" stroke-width="0.9"/>
<text transform="translate(227.1,544.1) scale(1,1.1)" text-anchor="middle" font-size="13" class="d">100</text>
<line x1="253.28" y1="512.4" x2="253.28" y2="514.7" stroke="#333" stroke-width="0.9"/>
<line x1="253.28" y1="523.9" x2="253.28" y2="526.2" stroke="#333" stroke-width="0.9"/>
<text transform="translate(253.1,544.1) scale(1,1.1)" text-anchor="middle" font-size="13" class="d">150</text>
<line x1="278.78" y1="512.4" x2="278.78" y2="514.7" stroke="#333" stroke-width="0.9"/>
<line x1="278.78" y1="523.9" x2="278.78" y2="526.2" stroke="#333" stroke-width="0.9"/>
<text transform="translate(278.3,544.1) scale(1,1.1)" text-anchor="middle" font-size="13" class="d">200</text>
<text x="166.8" y="522.4" text-anchor="end" font-size="13" >事件数量(起)</text>
<text x="350.4" y="272.5" text-anchor="start" font-size="13" >(d) 事件亚类月份分布</text>
<rect x="413.1" y="284.4" width="19.68" height="13.35" fill="#72b492" />
<rect x="432.78" y="284.4" width="19.68" height="13.35" fill="#72b492" />
<rect x="452.47" y="284.4" width="19.68" height="13.35" fill="#76b692" />
<rect x="472.15" y="284.4" width="19.68" height="13.35" fill="#76b692" />
<rect x="491.83" y="284.4" width="19.68" height="13.35" fill="#79b893" />
<rect x="511.52" y="284.4" width="19.68" height="13.35" fill="#7cba94" />
<rect x="531.2" y="284.4" width="19.68" height="13.35" fill="#80bc94" />
<rect x="550.88" y="284.4" width="19.68" height="13.35" fill="#7cba94" />
<rect x="570.57" y="284.4" width="19.68" height="13.35" fill="#7cba94" />
<rect x="590.25" y="284.4" width="19.68" height="13.35" fill="#79b893" />
<rect x="609.93" y="284.4" width="19.68" height="13.35" fill="#79b893" />
<rect x="629.62" y="284.4" width="19.68" height="13.35" fill="#76b692" />
<rect x="413.1" y="297.75" width="19.68" height="13.35" fill="#ffffff" />
<rect x="432.78" y="297.75" width="19.68" height="13.35" fill="#ffffff" />
<rect x="452.47" y="297.75" width="19.68" height="13.35" fill="#72b492" />
<rect x="472.15" y="297.75" width="19.68" height="13.35" fill="#76b692" />
<rect x="491.83" y="297.75" width="19.68" height="13.35" fill="#7cba94" />
<rect x="511.52" y="297.75" width="19.68" height="13.35" fill="#80bc94" />
<rect x="531.2" y="297.75" width="19.68" height="13.35" fill="#add096" />
<rect x="550.88" y="297.75" width="19.68" height="13.35" fill="#80bc94" />
<rect x="570.57" y="297.75" width="19.68" height="13.35" fill="#b6d496" />
<rect x="590.25" y="297.75" width="19.68" height="13.35" fill="#79b893" />
<rect x="609.93" y="297.75" width="19.68" height="13.35" fill="#79b893" />
<rect x="629.62" y="297.75" width="19.68" height="13.35" fill="#ffffff" />
<rect x="413.1" y="311.11" width="19.68" height="13.35" fill="#72b492" />
<rect x="432.78" y="311.11" width="19.68" height="13.35" fill="#72b492" />
<rect x="452.47" y="311.11" width="19.68" height="13.35" fill="#ffffff" />
<rect x="472.15" y="311.11" width="19.68" height="13.35" fill="#79b893" />
<rect x="491.83" y="311.11" width="19.68" height="13.35" fill="#ffffff" />
<rect x="511.52" y="311.11" width="19.68" height="13.35" fill="#79b893" />
<rect x="531.2" y="311.11" width="19.68" height="13.35" fill="#7cba94" />
<rect x="550.88" y="311.11" width="19.68" height="13.35" fill="#cadd98" />
<rect x="570.57" y="311.11" width="19.68" height="13.35" fill="#7cba94" />
<rect x="590.25" y="311.11" width="19.68" height="13.35" fill="#ffffff" />
<rect x="609.93" y="311.11" width="19.68" height="13.35" fill="#76b692" />
<rect x="629.62" y="311.11" width="19.68" height="13.35" fill="#ffffff" />
<rect x="413.1" y="324.46" width="19.68" height="13.35" fill="#72b492" />
<rect x="432.78" y="324.46" width="19.68" height="13.35" fill="#ffffff" />
<rect x="452.47" y="324.46" width="19.68" height="13.35" fill="#ffffff" />
<rect x="472.15" y="324.46" width="19.68" height="13.35" fill="#76b692" />
<rect x="491.83" y="324.46" width="19.68" height="13.35" fill="#79b893" />
<rect x="511.52" y="324.46" width="19.68" height="13.35" fill="#80bc94" />
<rect x="531.2" y="324.46" width="19.68" height="13.35" fill="#a0ca95" />
<rect x="550.88" y="324.46" width="19.68" height="13.35" fill="#80bc94" />
<rect x="570.57" y="324.46" width="19.68" height="13.35" fill="#7cba94" />
<rect x="590.25" y="324.46" width="19.68" height="13.35" fill="#79b893" />
<rect x="609.93" y="324.46" width="19.68" height="13.35" fill="#ffffff" />
<rect x="629.62" y="324.46" width="19.68" height="13.35" fill="#ffffff" />
<rect x="413.1" y="337.82" width="19.68" height="13.35" fill="#ffffff" />
<rect x="432.78" y="337.82" width="19.68" height="13.35" fill="#ffffff" />
<rect x="452.47" y="337.82" width="19.68" height="13.35" fill="#76b692" />
<rect x="472.15" y="337.82" width="19.68" height="13.35" fill="#76b692" />
<rect x="491.83" y="337.82" width="19.68" height="13.35" fill="#79b893" />
<rect x="511.52" y="337.82" width="19.68" height="13.35" fill="#7cba94" />
<rect x="531.2" y="337.82" width="19.68" height="13.35" fill="#7cba94" />
<rect x="550.88" y="337.82" width="19.68" height="13.35" fill="#7cba94" />
<rect x="570.57" y="337.82" width="19.68" height="13.35" fill="#80bc94" />
<rect x="590.25" y="337.82" width="19.68" height="13.35" fill="#ffffff" />
<rect x="609.93" y="337.82" width="19.68" height="13.35" fill="#ffffff" />
<rect x="629.62" y="337.82" width="19.68" height="13.35" fill="#ffffff" />
<rect x="413.1" y="351.17" width="19.68" height="13.35" fill="#ffffff" />
<rect x="432.78" y="351.17" width="19.68" height="13.35" fill="#ffffff" />
<rect x="452.47" y="351.17" width="19.68" height="13.35" fill="#ffffff" />
<rect x="472.15" y="351.17" width="19.68" height="13.35" fill="#ffffff" />
<rect x="491.83" y="351.17" width="19.68" height="13.35" fill="#ffffff" />
<rect x="511.52" y="351.17" width="19.68" height="13.35" fill="#80bc94" />
<rect x="531.2" y="351.17" width="19.68" height="13.35" fill="#ee8c5c" />
<rect x="550.88" y="351.17" width="19.68" height="13.35" fill="#c44852" />
<rect x="570.57" y="351.17" width="19.68" height="13.35" fill="#f7d58c" />
<rect x="590.25" y="351.17" width="19.68" height="13.35" fill="#bed897" />
<rect x="609.93" y="351.17" width="19.68" height="13.35" fill="#8ec294" />
<rect x="629.62" y="351.17" width="19.68" height="13.35" fill="#79b893" />
<rect x="413.1" y="364.52" width="19.68" height="13.35" fill="#eceda3" />
<rect x="432.78" y="364.52" width="19.68" height="13.35" fill="#dae49b" />
<rect x="452.47" y="364.52" width="19.68" height="13.35" fill="#dae49b" />
<rect x="472.15" y="364.52" width="19.68" height="13.35" fill="#b6d496" />
<rect x="491.83" y="364.52" width="19.68" height="13.35" fill="#8ec294" />
<rect x="511.52" y="364.52" width="19.68" height="13.35" fill="#87bf94" />
<rect x="531.2" y="364.52" width="19.68" height="13.35" fill="#8ec294" />
<rect x="550.88" y="364.52" width="19.68" height="13.35" fill="#80bc94" />
<rect x="570.57" y="364.52" width="19.68" height="13.35" fill="#80bc94" />
<rect x="590.25" y="364.52" width="19.68" height="13.35" fill="#8ec294" />
<rect x="609.93" y="364.52" width="19.68" height="13.35" fill="#bed897" />
<rect x="629.62" y="364.52" width="19.68" height="13.35" fill="#d4e19a" />
<rect x="413.1" y="377.88" width="19.68" height="13.35" fill="#76b692" />
<rect x="432.78" y="377.88" width="19.68" height="13.35" fill="#76b692" />
<rect x="452.47" y="377.88" width="19.68" height="13.35" fill="#87bf94" />
<rect x="472.15" y="377.88" width="19.68" height="13.35" fill="#8ec294" />
<rect x="491.83" y="377.88" width="19.68" height="13.35" fill="#bed897" />
<rect x="511.52" y="377.88" width="19.68" height="13.35" fill="#bad696" />
<rect x="531.2" y="377.88" width="19.68" height="13.35" fill="#f2f0a6" />
<rect x="550.88" y="377.88" width="19.68" height="13.35" fill="#a0ca95" />
<rect x="570.57" y="377.88" width="19.68" height="13.35" fill="#83bd94" />
<rect x="590.25" y="377.88" width="19.68" height="13.35" fill="#7cba94" />
<rect x="609.93" y="377.88" width="19.68" height="13.35" fill="#79b893" />
<rect x="629.62" y="377.88" width="19.68" height="13.35" fill="#79b893" />
<rect x="413.1" y="391.23" width="19.68" height="13.35" fill="#dae49b" />
<rect x="432.78" y="391.23" width="19.68" height="13.35" fill="#cadd98" />
<rect x="452.47" y="391.23" width="19.68" height="13.35" fill="#7cba94" />
<rect x="472.15" y="391.23" width="19.68" height="13.35" fill="#80bc94" />
<rect x="491.83" y="391.23" width="19.68" height="13.35" fill="#79b893" />
<rect x="511.52" y="391.23" width="19.68" height="13.35" fill="#ffffff" />
<rect x="531.2" y="391.23" width="19.68" height="13.35" fill="#ffffff" />
<rect x="550.88" y="391.23" width="19.68" height="13.35" fill="#ffffff" />
<rect x="570.57" y="391.23" width="19.68" height="13.35" fill="#7cba94" />
<rect x="590.25" y="391.23" width="19.68" height="13.35" fill="#7cba94" />
<rect x="609.93" y="391.23" width="19.68" height="13.35" fill="#a0ca95" />
<rect x="629.62" y="391.23" width="19.68" height="13.35" fill="#e0e69d" />
<rect x="413.1" y="404.58" width="19.68" height="13.35" fill="#ffffff" />
<rect x="432.78" y="404.58" width="19.68" height="13.35" fill="#ffffff" />
<rect x="452.47" y="404.58" width="19.68" height="13.35" fill="#79b893" />
<rect x="472.15" y="404.58" width="19.68" height="13.35" fill="#7cba94" />
<rect x="491.83" y="404.58" width="19.68" height="13.35" fill="#80bc94" />
<rect x="511.52" y="404.58" width="19.68" height="13.35" fill="#80bc94" />
<rect x="531.2" y="404.58" width="19.68" height="13.35" fill="#83bd94" />
<rect x="550.88" y="404.58" width="19.68" height="13.35" fill="#87bf94" />
<rect x="570.57" y="404.58" width="19.68" height="13.35" fill="#7cba94" />
<rect x="590.25" y="404.58" width="19.68" height="13.35" fill="#ffffff" />
<rect x="609.93" y="404.58" width="19.68" height="13.35" fill="#ffffff" />
<rect x="629.62" y="404.58" width="19.68" height="13.35" fill="#ffffff" />
<rect x="413.1" y="417.94" width="19.68" height="13.35" fill="#76b692" />
<rect x="432.78" y="417.94" width="19.68" height="13.35" fill="#72b492" />
<rect x="452.47" y="417.94" width="19.68" height="13.35" fill="#7cba94" />
<rect x="472.15" y="417.94" width="19.68" height="13.35" fill="#87bf94" />
<rect x="491.83" y="417.94" width="19.68" height="13.35" fill="#95c594" />
<rect x="511.52" y="417.94" width="19.68" height="13.35" fill="#80bc94" />
<rect x="531.2" y="417.94" width="19.68" height="13.35" fill="#80bc94" />
<rect x="550.88" y="417.94" width="19.68" height="13.35" fill="#87bf94" />
<rect x="570.57" y="417.94" width="19.68" height="13.35" fill="#7cba94" />
<rect x="590.25" y="417.94" width="19.68" height="13.35" fill="#79b893" />
<rect x="609.93" y="417.94" width="19.68" height="13.35" fill="#79b893" />
<rect x="629.62" y="417.94" width="19.68" height="13.35" fill="#79b893" />
<rect x="413.1" y="431.29" width="19.68" height="13.35" fill="#ffffff" />
<rect x="432.78" y="431.29" width="19.68" height="13.35" fill="#ffffff" />
<rect x="452.47" y="431.29" width="19.68" height="13.35" fill="#72b492" />
<rect x="472.15" y="431.29" width="19.68" height="13.35" fill="#79b893" />
<rect x="491.83" y="431.29" width="19.68" height="13.35" fill="#80bc94" />
<rect x="511.52" y="431.29" width="19.68" height="13.35" fill="#80bc94" />
<rect x="531.2" y="431.29" width="19.68" height="13.35" fill="#8ec294" />
<rect x="550.88" y="431.29" width="19.68" height="13.35" fill="#8ec294" />
<rect x="570.57" y="431.29" width="19.68" height="13.35" fill="#80bc94" />
<rect x="590.25" y="431.29" width="19.68" height="13.35" fill="#7cba94" />
<rect x="609.93" y="431.29" width="19.68" height="13.35" fill="#79b893" />
<rect x="629.62" y="431.29" width="19.68" height="13.35" fill="#ffffff" />
<rect x="413.1" y="444.65" width="19.68" height="13.35" fill="#ffffff" />
<rect x="432.78" y="444.65" width="19.68" height="13.35" fill="#ffffff" />
<rect x="452.47" y="444.65" width="19.68" height="13.35" fill="#ffffff" />
<rect x="472.15" y="444.65" width="19.68" height="13.35" fill="#ffffff" />
<rect x="491.83" y="444.65" width="19.68" height="13.35" fill="#7cba94" />
<rect x="511.52" y="444.65" width="19.68" height="13.35" fill="#80bc94" />
<rect x="531.2" y="444.65" width="19.68" height="13.35" fill="#87bf94" />
<rect x="550.88" y="444.65" width="19.68" height="13.35" fill="#87bf94" />
<rect x="570.57" y="444.65" width="19.68" height="13.35" fill="#80bc94" />
<rect x="590.25" y="444.65" width="19.68" height="13.35" fill="#ffffff" />
<rect x="609.93" y="444.65" width="19.68" height="13.35" fill="#ffffff" />
<rect x="629.62" y="444.65" width="19.68" height="13.35" fill="#ffffff" />
<path d="M413.1 297.75L413.1 311.11 M413.1 337.82L413.1 351.17 M413.1 351.17L413.1 364.52 M413.1 404.58L413.1 417.94 M413.1 431.29L413.1 444.65 M413.1 444.65L413.1 458 M432.78 297.75L432.78 311.11 M432.78 337.82L432.78 351.17 M432.78 351.17L432.78 364.52 M432.78 404.58L432.78 417.94 M432.78 431.29L432.78 444.65 M432.78 444.65L432.78 458 M452.47 324.46L452.47 337.82 M452.47 351.17L452.47 364.52 M452.47 444.65L452.47 458 M472.15 351.17L472.15 364.52 M472.15 444.65L472.15 458 M491.83 351.17L491.83 364.52 M531.2 391.23L531.2 404.58 M550.88 391.23L550.88 404.58 M609.93 337.82L609.93 351.17 M609.93 404.58L609.93 417.94 M609.93 444.65L609.93 458 M629.62 324.46L629.62 337.82 M629.62 337.82L629.62 351.17 M629.62 404.58L629.62 417.94 M629.62 444.65L629.62 458 M649.3 297.75L649.3 311.11 M649.3 311.11L649.3 324.46 M649.3 324.46L649.3 337.82 M649.3 337.82L649.3 351.17 M649.3 404.58L649.3 417.94 M649.3 431.29L649.3 444.65 M649.3 444.65L649.3 458 M629.62 311.11L649.3 311.11 M452.47 324.46L472.15 324.46 M629.62 324.46L649.3 324.46 M432.78 337.82L452.47 337.82 M609.93 337.82L629.62 337.82 M629.62 337.82L649.3 337.82 M413.1 351.17L432.78 351.17 M432.78 351.17L452.47 351.17 M413.1 444.65L432.78 444.65 M432.78 444.65L452.47 444.65 M629.62 444.65L649.3 444.65 M413.1 458L432.78 458 M432.78 458L452.47 458 M452.47 458L472.15 458 M472.15 458L491.83 458 M590.25 458L609.93 458 M609.93 458L629.62 458 M629.62 458L649.3 458" stroke="#6a6a6a" stroke-width="1.0" stroke-linecap="square" fill="none"/>
<path d="M413.1 284.4L413.1 297.75 M413.1 311.11L413.1 324.46 M413.1 324.46L413.1 337.82 M413.1 364.52L413.1 377.88 M413.1 377.88L413.1 391.23 M413.1 391.23L413.1 404.58 M413.1 417.94L413.1 431.29 M432.78 284.4L432.78 297.75 M432.78 311.11L432.78 324.46 M432.78 324.46L432.78 337.82 M432.78 364.52L432.78 377.88 M432.78 377.88L432.78 391.23 M432.78 391.23L432.78 404.58 M432.78 417.94L432.78 431.29 M452.47 284.4L452.47 297.75 M452.47 297.75L452.47 311.11 M452.47 311.11L452.47 324.46 M452.47 337.82L452.47 351.17 M452.47 364.52L452.47 377.88 M452.47 377.88L452.47 391.23 M452.47 391.23L452.47 404.58 M452.47 404.58L452.47 417.94 M452.47 417.94L452.47 431.29 M452.47 431.29L452.47 444.65 M472.15 284.4L472.15 297.75 M472.15 297.75L472.15 311.11 M472.15 311.11L472.15 324.46 M472.15 324.46L472.15 337.82 M472.15 337.82L472.15 351.17 M472.15 364.52L472.15 377.88 M472.15 377.88L472.15 391.23 M472.15 391.23L472.15 404.58 M472.15 404.58L472.15 417.94 M472.15 417.94L472.15 431.29 M472.15 431.29L472.15 444.65 M491.83 284.4L491.83 297.75 M491.83 297.75L491.83 311.11 M491.83 311.11L491.83 324.46 M491.83 324.46L491.83 337.82 M491.83 337.82L491.83 351.17 M491.83 364.52L491.83 377.88 M491.83 377.88L491.83 391.23 M491.83 391.23L491.83 404.58 M491.83 404.58L491.83 417.94 M491.83 417.94L491.83 431.29 M491.83 431.29L491.83 444.65 M491.83 444.65L491.83 458 M511.52 284.4L511.52 297.75 M511.52 297.75L511.52 311.11 M511.52 311.11L511.52 324.46 M511.52 324.46L511.52 337.82 M511.52 337.82L511.52 351.17 M511.52 351.17L511.52 364.52 M511.52 364.52L511.52 377.88 M511.52 377.88L511.52 391.23 M511.52 391.23L511.52 404.58 M511.52 404.58L511.52 417.94 M511.52 417.94L511.52 431.29 M511.52 431.29L511.52 444.65 M511.52 444.65L511.52 458 M531.2 284.4L531.2 297.75 M531.2 297.75L531.2 311.11 M531.2 311.11L531.2 324.46 M531.2 324.46L531.2 337.82 M531.2 337.82L531.2 351.17 M531.2 351.17L531.2 364.52 M531.2 364.52L531.2 377.88 M531.2 377.88L531.2 391.23 M531.2 404.58L531.2 417.94 M531.2 417.94L531.2 431.29 M531.2 431.29L531.2 444.65 M531.2 444.65L531.2 458 M550.88 284.4L550.88 297.75 M550.88 297.75L550.88 311.11 M550.88 311.11L550.88 324.46 M550.88 324.46L550.88 337.82 M550.88 337.82L550.88 351.17 M550.88 351.17L550.88 364.52 M550.88 364.52L550.88 377.88 M550.88 377.88L550.88 391.23 M550.88 404.58L550.88 417.94 M550.88 417.94L550.88 431.29 M550.88 431.29L550.88 444.65 M550.88 444.65L550.88 458 M570.57 284.4L570.57 297.75 M570.57 297.75L570.57 311.11 M570.57 311.11L570.57 324.46 M570.57 324.46L570.57 337.82 M570.57 337.82L570.57 351.17 M570.57 351.17L570.57 364.52 M570.57 364.52L570.57 377.88 M570.57 377.88L570.57 391.23 M570.57 391.23L570.57 404.58 M570.57 404.58L570.57 417.94 M570.57 417.94L570.57 431.29 M570.57 431.29L570.57 444.65 M570.57 444.65L570.57 458 M590.25 284.4L590.25 297.75 M590.25 297.75L590.25 311.11 M590.25 311.11L590.25 324.46 M590.25 324.46L590.25 337.82 M590.25 337.82L590.25 351.17 M590.25 351.17L590.25 364.52 M590.25 364.52L590.25 377.88 M590.25 377.88L590.25 391.23 M590.25 391.23L590.25 404.58 M590.25 404.58L590.25 417.94 M590.25 417.94L590.25 431.29 M590.25 431.29L590.25 444.65 M590.25 444.65L590.25 458 M609.93 284.4L609.93 297.75 M609.93 297.75L609.93 311.11 M609.93 311.11L609.93 324.46 M609.93 324.46L609.93 337.82 M609.93 351.17L609.93 364.52 M609.93 364.52L609.93 377.88 M609.93 377.88L609.93 391.23 M609.93 391.23L609.93 404.58 M609.93 417.94L609.93 431.29 M609.93 431.29L609.93 444.65 M629.62 284.4L629.62 297.75 M629.62 297.75L629.62 311.11 M629.62 311.11L629.62 324.46 M629.62 351.17L629.62 364.52 M629.62 364.52L629.62 377.88 M629.62 377.88L629.62 391.23 M629.62 391.23L629.62 404.58 M629.62 417.94L629.62 431.29 M629.62 431.29L629.62 444.65 M649.3 284.4L649.3 297.75 M649.3 351.17L649.3 364.52 M649.3 364.52L649.3 377.88 M649.3 377.88L649.3 391.23 M649.3 391.23L649.3 404.58 M649.3 417.94L649.3 431.29 M413.1 284.4L432.78 284.4 M432.78 284.4L452.47 284.4 M452.47 284.4L472.15 284.4 M472.15 284.4L491.83 284.4 M491.83 284.4L511.52 284.4 M511.52 284.4L531.2 284.4 M531.2 284.4L550.88 284.4 M550.88 284.4L570.57 284.4 M570.57 284.4L590.25 284.4 M590.25 284.4L609.93 284.4 M609.93 284.4L629.62 284.4 M629.62 284.4L649.3 284.4 M413.1 297.75L432.78 297.75 M432.78 297.75L452.47 297.75 M452.47 297.75L472.15 297.75 M472.15 297.75L491.83 297.75 M491.83 297.75L511.52 297.75 M511.52 297.75L531.2 297.75 M531.2 297.75L550.88 297.75 M550.88 297.75L570.57 297.75 M570.57 297.75L590.25 297.75 M590.25 297.75L609.93 297.75 M609.93 297.75L629.62 297.75 M629.62 297.75L649.3 297.75 M413.1 311.11L432.78 311.11 M432.78 311.11L452.47 311.11 M452.47 311.11L472.15 311.11 M472.15 311.11L491.83 311.11 M491.83 311.11L511.52 311.11 M511.52 311.11L531.2 311.11 M531.2 311.11L550.88 311.11 M550.88 311.11L570.57 311.11 M570.57 311.11L590.25 311.11 M590.25 311.11L609.93 311.11 M609.93 311.11L629.62 311.11 M413.1 324.46L432.78 324.46 M432.78 324.46L452.47 324.46 M472.15 324.46L491.83 324.46 M491.83 324.46L511.52 324.46 M511.52 324.46L531.2 324.46 M531.2 324.46L550.88 324.46 M550.88 324.46L570.57 324.46 M570.57 324.46L590.25 324.46 M590.25 324.46L609.93 324.46 M609.93 324.46L629.62 324.46 M413.1 337.82L432.78 337.82 M452.47 337.82L472.15 337.82 M472.15 337.82L491.83 337.82 M491.83 337.82L511.52 337.82 M511.52 337.82L531.2 337.82 M531.2 337.82L550.88 337.82 M550.88 337.82L570.57 337.82 M570.57 337.82L590.25 337.82 M590.25 337.82L609.93 337.82 M452.47 351.17L472.15 351.17 M472.15 351.17L491.83 351.17 M491.83 351.17L511.52 351.17 M511.52 351.17L531.2 351.17 M531.2 351.17L550.88 351.17 M550.88 351.17L570.57 351.17 M570.57 351.17L590.25 351.17 M590.25 351.17L609.93 351.17 M609.93 351.17L629.62 351.17 M629.62 351.17L649.3 351.17 M413.1 364.52L432.78 364.52 M432.78 364.52L452.47 364.52 M452.47 364.52L472.15 364.52 M472.15 364.52L491.83 364.52 M491.83 364.52L511.52 364.52 M511.52 364.52L531.2 364.52 M531.2 364.52L550.88 364.52 M550.88 364.52L570.57 364.52 M570.57 364.52L590.25 364.52 M590.25 364.52L609.93 364.52 M609.93 364.52L629.62 364.52 M629.62 364.52L649.3 364.52 M413.1 377.88L432.78 377.88 M432.78 377.88L452.47 377.88 M452.47 377.88L472.15 377.88 M472.15 377.88L491.83 377.88 M491.83 377.88L511.52 377.88 M511.52 377.88L531.2 377.88 M531.2 377.88L550.88 377.88 M550.88 377.88L570.57 377.88 M570.57 377.88L590.25 377.88 M590.25 377.88L609.93 377.88 M609.93 377.88L629.62 377.88 M629.62 377.88L649.3 377.88 M413.1 391.23L432.78 391.23 M432.78 391.23L452.47 391.23 M452.47 391.23L472.15 391.23 M472.15 391.23L491.83 391.23 M491.83 391.23L511.52 391.23 M511.52 391.23L531.2 391.23 M531.2 391.23L550.88 391.23 M550.88 391.23L570.57 391.23 M570.57 391.23L590.25 391.23 M590.25 391.23L609.93 391.23 M609.93 391.23L629.62 391.23 M629.62 391.23L649.3 391.23 M413.1 404.58L432.78 404.58 M432.78 404.58L452.47 404.58 M452.47 404.58L472.15 404.58 M472.15 404.58L491.83 404.58 M491.83 404.58L511.52 404.58 M511.52 404.58L531.2 404.58 M531.2 404.58L550.88 404.58 M550.88 404.58L570.57 404.58 M570.57 404.58L590.25 404.58 M590.25 404.58L609.93 404.58 M609.93 404.58L629.62 404.58 M629.62 404.58L649.3 404.58 M413.1 417.94L432.78 417.94 M432.78 417.94L452.47 417.94 M452.47 417.94L472.15 417.94 M472.15 417.94L491.83 417.94 M491.83 417.94L511.52 417.94 M511.52 417.94L531.2 417.94 M531.2 417.94L550.88 417.94 M550.88 417.94L570.57 417.94 M570.57 417.94L590.25 417.94 M590.25 417.94L609.93 417.94 M609.93 417.94L629.62 417.94 M629.62 417.94L649.3 417.94 M413.1 431.29L432.78 431.29 M432.78 431.29L452.47 431.29 M452.47 431.29L472.15 431.29 M472.15 431.29L491.83 431.29 M491.83 431.29L511.52 431.29 M511.52 431.29L531.2 431.29 M531.2 431.29L550.88 431.29 M550.88 431.29L570.57 431.29 M570.57 431.29L590.25 431.29 M590.25 431.29L609.93 431.29 M609.93 431.29L629.62 431.29 M629.62 431.29L649.3 431.29 M452.47 444.65L472.15 444.65 M472.15 444.65L491.83 444.65 M491.83 444.65L511.52 444.65 M511.52 444.65L531.2 444.65 M531.2 444.65L550.88 444.65 M550.88 444.65L570.57 444.65 M570.57 444.65L590.25 444.65 M590.25 444.65L609.93 444.65 M609.93 444.65L629.62 444.65 M491.83 458L511.52 458 M511.52 458L531.2 458 M531.2 458L550.88 458 M550.88 458L570.57 458 M570.57 458L590.25 458" stroke="#151515" stroke-width="1.0" stroke-linecap="square" fill="none"/>
<line x1="409.8" y1="291.5" x2="413.1" y2="291.5" stroke="#777" stroke-width="1.0"/>
<text x="402.7" y="294.28" text-anchor="end" font-size="13" >海浪灾害</text>
<line x1="409.8" y1="304.5" x2="413.1" y2="304.5" stroke="#777" stroke-width="1.0"/>
<text x="402.7" y="307.63" text-anchor="end" font-size="13" >崩塌灾害</text>
<line x1="409.8" y1="317.5" x2="413.1" y2="317.5" stroke="#777" stroke-width="1.0"/>
<text x="402.7" y="320.98" text-anchor="end" font-size="13" >地震灾害</text>
<line x1="409.8" y1="331.5" x2="413.1" y2="331.5" stroke="#777" stroke-width="1.0"/>
<text x="402.7" y="334.34" text-anchor="end" font-size="13" >泥石流灾害</text>
<line x1="409.8" y1="344.5" x2="413.1" y2="344.5" stroke="#777" stroke-width="1.0"/>
<text x="402.7" y="347.69" text-anchor="end" font-size="13" >滑坡灾害</text>
<line x1="409.8" y1="357.5" x2="413.1" y2="357.5" stroke="#777" stroke-width="1.0"/>
<text x="402.7" y="361.05" text-anchor="end" font-size="13" >台风灾害</text>
<line x1="409.8" y1="371.5" x2="413.1" y2="371.5" stroke="#777" stroke-width="1.0"/>
<text x="402.7" y="374.4" text-anchor="end" font-size="13" >大雾灾害</text>
<line x1="409.8" y1="384.5" x2="413.1" y2="384.5" stroke="#777" stroke-width="1.0"/>
<text x="402.7" y="387.75" text-anchor="end" font-size="13" >暴雨灾害</text>
<line x1="409.8" y1="397.5" x2="413.1" y2="397.5" stroke="#777" stroke-width="1.0"/>
<text x="402.7" y="401.11" text-anchor="end" font-size="13" >冰雪灾害</text>
<line x1="409.8" y1="411.5" x2="413.1" y2="411.5" stroke="#777" stroke-width="1.0"/>
<text x="402.7" y="414.46" text-anchor="end" font-size="13" >雷电灾害</text>
<line x1="409.8" y1="424.5" x2="413.1" y2="424.5" stroke="#777" stroke-width="1.0"/>
<text x="402.7" y="427.82" text-anchor="end" font-size="13" >大风灾害</text>
<line x1="409.8" y1="437.5" x2="413.1" y2="437.5" stroke="#777" stroke-width="1.0"/>
<text x="402.7" y="441.17" text-anchor="end" font-size="13" >高温灾害</text>
<line x1="409.8" y1="451.5" x2="413.1" y2="451.5" stroke="#777" stroke-width="1.0"/>
<text x="402.7" y="454.52" text-anchor="end" font-size="13" >洪涝灾害</text>
<line x1="422.5" y1="458" x2="422.5" y2="461.3" stroke="#777" stroke-width="1.0"/>
<text transform="translate(422.94,479.4) scale(1,1.1)" text-anchor="middle" font-size="13" class="d">1</text>
<line x1="442.5" y1="458" x2="442.5" y2="461.3" stroke="#777" stroke-width="1.0"/>
<text transform="translate(442.62,479.4) scale(1,1.1)" text-anchor="middle" font-size="13" class="d">2</text>
<line x1="462.5" y1="458" x2="462.5" y2="461.3" stroke="#777" stroke-width="1.0"/>
<text transform="translate(462.31,479.4) scale(1,1.1)" text-anchor="middle" font-size="13" class="d">3</text>
<line x1="481.5" y1="458" x2="481.5" y2="461.3" stroke="#777" stroke-width="1.0"/>
<text transform="translate(481.99,479.4) scale(1,1.1)" text-anchor="middle" font-size="13" class="d">4</text>
<line x1="501.5" y1="458" x2="501.5" y2="461.3" stroke="#777" stroke-width="1.0"/>
<text transform="translate(501.68,479.4) scale(1,1.1)" text-anchor="middle" font-size="13" class="d">5</text>
<line x1="521.5" y1="458" x2="521.5" y2="461.3" stroke="#777" stroke-width="1.0"/>
<text transform="translate(521.36,479.4) scale(1,1.1)" text-anchor="middle" font-size="13" class="d">6</text>
<line x1="541.5" y1="458" x2="541.5" y2="461.3" stroke="#777" stroke-width="1.0"/>
<text transform="translate(541.04,479.4) scale(1,1.1)" text-anchor="middle" font-size="13" class="d">7</text>
<line x1="560.5" y1="458" x2="560.5" y2="461.3" stroke="#777" stroke-width="1.0"/>
<text transform="translate(560.72,479.4) scale(1,1.1)" text-anchor="middle" font-size="13" class="d">8</text>
<line x1="580.5" y1="458" x2="580.5" y2="461.3" stroke="#777" stroke-width="1.0"/>
<text transform="translate(580.41,479.4) scale(1,1.1)" text-anchor="middle" font-size="13" class="d">9</text>
<line x1="600.5" y1="458" x2="600.5" y2="461.3" stroke="#777" stroke-width="1.0"/>
<text transform="translate(600.09,479.4) scale(1,1.1)" text-anchor="middle" font-size="13" class="d">10</text>
<line x1="619.5" y1="458" x2="619.5" y2="461.3" stroke="#777" stroke-width="1.0"/>
<text transform="translate(619.77,479.4) scale(1,1.1)" text-anchor="middle" font-size="13" class="d">11</text>
<line x1="639.5" y1="458" x2="639.5" y2="461.3" stroke="#777" stroke-width="1.0"/>
<text transform="translate(639.46,479.4) scale(1,1.1)" text-anchor="middle" font-size="13" class="d">12</text>
<text x="369" y="479.1" text-anchor="start" font-size="13" >(月度)</text>
<linearGradient id="g511" x1="0" y1="0" x2="1" y2="0"><stop offset="0%" stop-color="#6cb090"/><stop offset="5%" stop-color="#7cba94"/><stop offset="10%" stop-color="#8ec294"/><stop offset="15%" stop-color="#a0ca95"/><stop offset="20%" stop-color="#b6d496"/><stop offset="25%" stop-color="#cadd98"/><stop offset="30%" stop-color="#dae49b"/><stop offset="35%" stop-color="#e8eaa0"/><stop offset="42%" stop-color="#f2f0a6"/><stop offset="48%" stop-color="#f6eea3"/><stop offset="55%" stop-color="#f7dc92"/><stop offset="62%" stop-color="#f6c47e"/><stop offset="70%" stop-color="#f2a569"/><stop offset="78%" stop-color="#ec8458"/><stop offset="86%" stop-color="#de6850"/><stop offset="93%" stop-color="#d05650"/><stop offset="100%" stop-color="#c44852"/></linearGradient>
<rect x="511.6" y="512.4" width="106.1" height="13.8" fill="url(#g511)" stroke="#555" stroke-width="0.9"/>
<line x1="533.67" y1="512.4" x2="533.67" y2="514.7" stroke="#333" stroke-width="0.9"/>
<line x1="533.67" y1="523.9" x2="533.67" y2="526.2" stroke="#333" stroke-width="0.9"/>
<text transform="translate(533.1,544.1) scale(1,1.1)" text-anchor="middle" font-size="13" class="d">100</text>
<line x1="555.74" y1="512.4" x2="555.74" y2="514.7" stroke="#333" stroke-width="0.9"/>
<line x1="555.74" y1="523.9" x2="555.74" y2="526.2" stroke="#333" stroke-width="0.9"/>
<text transform="translate(556.2,544.1) scale(1,1.1)" text-anchor="middle" font-size="13" class="d">200</text>
<line x1="577.82" y1="512.4" x2="577.82" y2="514.7" stroke="#333" stroke-width="0.9"/>
<line x1="577.82" y1="523.9" x2="577.82" y2="526.2" stroke="#333" stroke-width="0.9"/>
<text transform="translate(578.7,544.1) scale(1,1.1)" text-anchor="middle" font-size="13" class="d">300</text>
<line x1="599.89" y1="512.4" x2="599.89" y2="514.7" stroke="#333" stroke-width="0.9"/>
<line x1="599.89" y1="523.9" x2="599.89" y2="526.2" stroke="#333" stroke-width="0.9"/>
<text transform="translate(602,544.1) scale(1,1.1)" text-anchor="middle" font-size="13" class="d">400</text>
<text x="501.6" y="522.4" text-anchor="end" font-size="13" >事件数量(起)</text>
</svg>
</body></html>
